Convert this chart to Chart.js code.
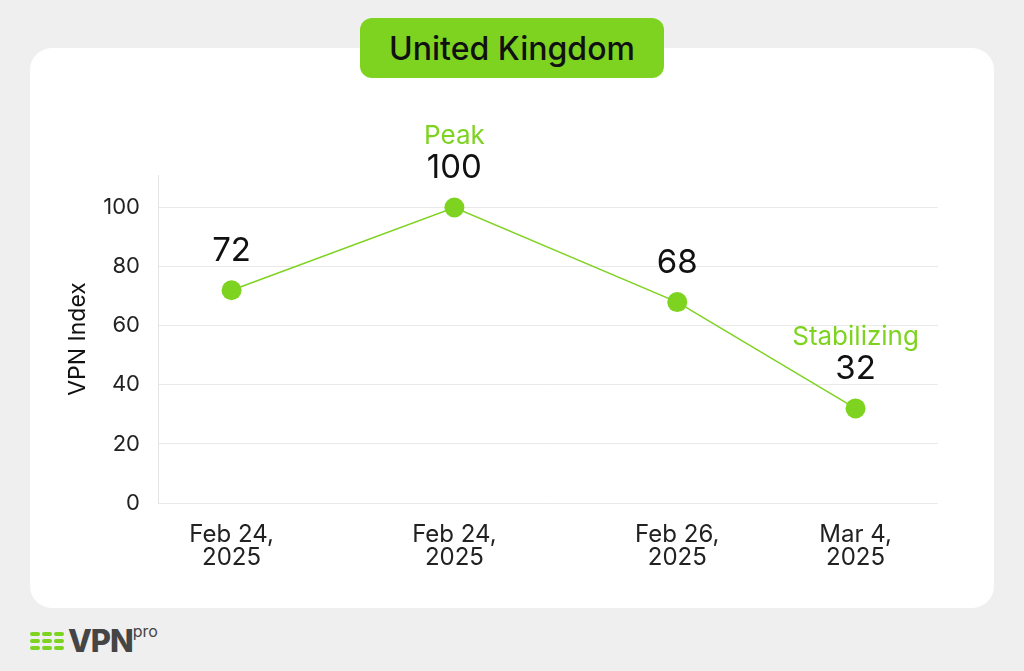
<!DOCTYPE html>
<html>
<head>
<meta charset="utf-8">
<script src="https://cdn.jsdelivr.net/npm/chart.js@4"></script>
<style>
  body { margin: 0; width: 1024px; height: 671px; background: #efefef; font-family: Inter, sans-serif; position: relative; overflow: hidden; }
  .card { position: absolute; left: 30px; top: 48px; width: 964px; height: 560px; background: #fff; border-radius: 22px; }
  .pill { position: absolute; left: 360px; top: 18px; width: 304px; height: 60px; background: #7ed321; border-radius: 12px;
          display: flex; align-items: center; justify-content: center; font-size: 32px; font-weight: 500; color: #111; z-index: 2; }
  #chartWrap { position: absolute; left: 30px; top: 48px; width: 964px; height: 560px; }
  .logo { position: absolute; left: 30px; top: 622px; display: flex; align-items: center; }
  .dashes { display: grid; grid-template-columns: repeat(3, 10px); gap: 3px 2px; margin-right: 4px; }
  .dashes span { height: 4px; background: #7ed321; border-radius: 2px; }
  .vpn { font-size: 31px; font-weight: 800; color: #454545; letter-spacing: -1px; }
  .pro { font-size: 16px; color: #454545; align-self: flex-start; margin-top: -1px; }
</style>
</head>
<body>
<div class="card"></div>
<div class="pill">United Kingdom</div>
<div id="chartWrap"><canvas id="lineChart"></canvas></div>
<div class="logo">
  <div class="dashes"><span></span><span></span><span></span><span></span><span></span><span></span><span></span><span></span><span></span></div>
  <span class="vpn">VPN</span><span class="pro">pro</span>
</div>
<script>
const dateLabels = [['Feb 24,', '2025'], ['Feb 24,', '2025'], ['Feb 26,', '2025'], ['Mar 4,', '2025']];
const xPositions = [0, 1, 2, 2.8];
const vpnIndex = [72, 100, 68, 32];
const notes = ['', 'Peak', '', 'Stabilizing'];
const yTicks = [0, 20, 40, 60, 80, 100];

const green = '#7ed321';

// numbers and notes above each point
const pointLabels = {
  id: 'pointLabels',
  afterDatasetsDraw(chart) {
    const ctx = chart.ctx;
    const meta = chart.getDatasetMeta(0);
    ctx.save();
    ctx.textAlign = 'center';
    ctx.textBaseline = 'middle';
    meta.data.forEach((pt, i) => {
      ctx.fillStyle = '#111';
      ctx.font = '33px Inter';
      ctx.fillText(vpnIndex[i], pt.x, pt.y - 39);
      if (notes[i]) {
        ctx.fillStyle = green;
        ctx.font = '26px Inter';
        ctx.fillText(notes[i], pt.x, pt.y - 71);
      }
    });
    ctx.restore();
  }
};

new Chart(document.getElementById('lineChart'), {
  type: 'line',
  data: {
    datasets: [{
      label: 'VPN Index',
      data: xPositions.map((x, i) => ({ x: x, y: vpnIndex[i] })),
      borderColor: green,
      borderWidth: 1.5,
      backgroundColor: green,
      pointBackgroundColor: green,
      pointBorderWidth: 0,
      pointRadius: 10,
      tension: 0
    }]
  },
  options: {
    responsive: true,
    maintainAspectRatio: false,
    animation: false,
    layout: { padding: { top: 127, right: 56, left: 0, bottom: 0 } },
    plugins: { legend: { display: false }, tooltip: { enabled: false } },
    scales: {
      x: {
        type: 'linear',
        min: -0.33,
        max: 3.17,
        grid: { display: false, drawTicks: false },
        border: { display: false },
        afterBuildTicks: scale => { scale.ticks = xPositions.map(v => ({ value: v })); },
        afterFit: scale => { scale.height = 105; },
        ticks: {
          padding: 20,
          color: '#222',
          font: { family: 'Inter', size: 24, lineHeight: 0.96 },
          maxRotation: 0,
          callback: (v, i) => dateLabels[i]
        }
      },
      y: {
        min: 0,
        max: 111,
        afterBuildTicks: scale => { scale.ticks = yTicks.map(v => ({ value: v })); },
        afterFit: scale => { scale.width = 128; },
        grid: { color: '#e9e9e9', drawTicks: false },
        border: { color: '#e4e4e4' },
        ticks: { padding: 18, color: '#222', font: { family: 'Inter', size: 22 } },
        title: { display: true, text: 'VPN Index', color: '#111', font: { family: 'Inter', size: 23 }, padding: { top: 34, bottom: 0 } }
      }
    }
  },
  plugins: [pointLabels]
});
</script>
</body>
</html>
